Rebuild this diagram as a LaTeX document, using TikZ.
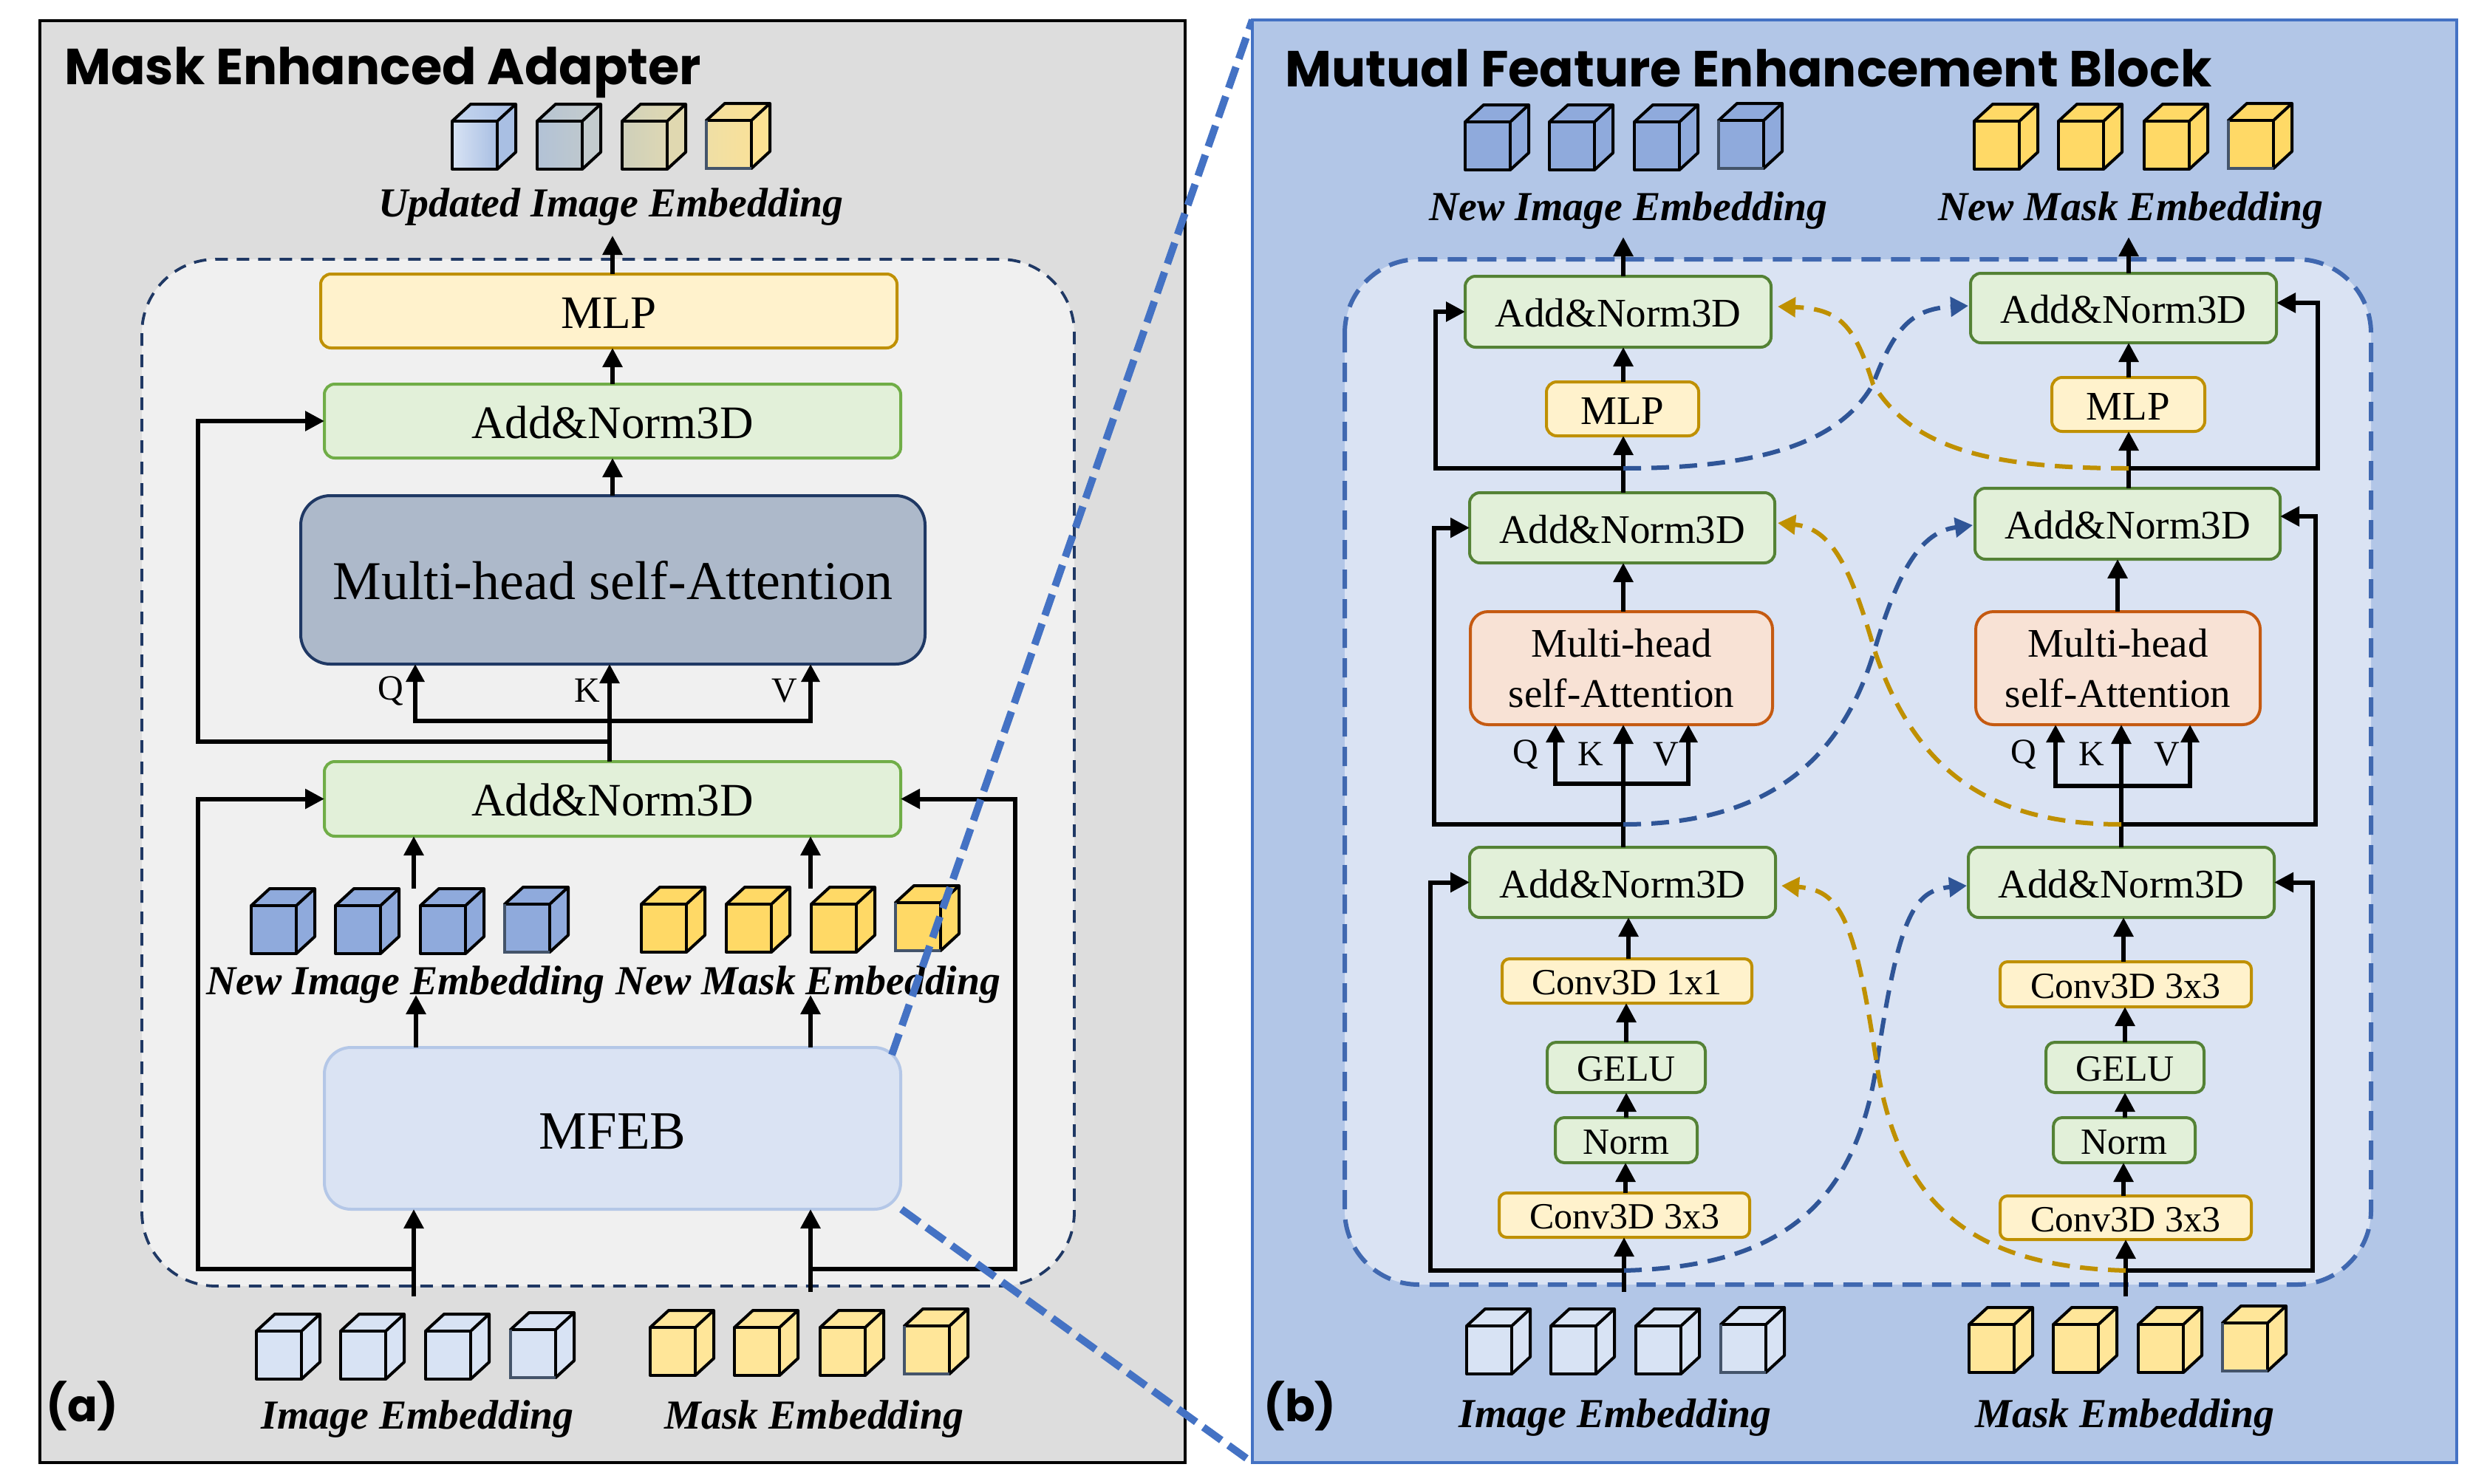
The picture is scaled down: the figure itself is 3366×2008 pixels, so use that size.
\documentclass[tikz,border=0pt]{standalone}
\usepackage{fontspec}
\setmainfont{Liberation Serif}
\newfontfamily\ttlfont{Poppins}
\usetikzlibrary{arrows.meta}
\definecolor{pgrey}{HTML}{DDDDDD}
\definecolor{pblue}{HTML}{B2C6E7}
\definecolor{pblueB}{HTML}{4472C4}
\definecolor{innerA}{HTML}{F0F0F0}
\definecolor{navy}{HTML}{1F3864}
\definecolor{innerB}{HTML}{DAE3F3}
\definecolor{dashB}{HTML}{4068B0}
\definecolor{ylF}{HTML}{FFF2CC}
\definecolor{ylB}{HTML}{BF9000}
\definecolor{grF}{HTML}{E2F0D9}
\definecolor{grA}{HTML}{70AD47}
\definecolor{grB}{HTML}{548235}
\definecolor{orF}{HTML}{F8E2D5}
\definecolor{orB}{HTML}{C55A11}
\definecolor{mhF}{HTML}{ADB9CA}
\definecolor{mfB}{HTML}{B4C7E7}
\definecolor{cbBlue}{HTML}{8FAADC}
\definecolor{cbYel}{HTML}{FFD966}
\definecolor{cbLB}{HTML}{D8E3F4}
\definecolor{cbLY}{HTML}{FFE699}
\definecolor{crvB}{HTML}{2F5597}
\definecolor{edgeN}{HTML}{44546A}
\definecolor{ua}{HTML}{A9BFE3}\definecolor{ub}{HTML}{C5D6F0}
\definecolor{uc}{HTML}{B2C2D6}\definecolor{ud}{HTML}{BEC8CE}\definecolor{ue}{HTML}{C4CCCE}\definecolor{uf}{HTML}{B6C4D2}\definecolor{ug}{HTML}{C6CDCE}
\definecolor{uh}{HTML}{CECFBA}\definecolor{ui}{HTML}{DED8B4}\definecolor{uj}{HTML}{E0D8B0}\definecolor{uk}{HTML}{D2D2BA}\definecolor{ul}{HTML}{E2D9B0}
\definecolor{um}{HTML}{EFDFA5}\definecolor{un}{HTML}{F9E19A}\definecolor{uo}{HTML}{FDE293}\definecolor{up}{HTML}{F3DFA0}
\tikzset{
  x=0.5pt,y=-0.5pt,
  bxbase/.style={draw,inner sep=0pt,outer sep=0pt,align=center,line width=2pt},
  mlpbox/.style={bxbase,rounded corners=7pt,fill=ylF,draw=ylB,text height=23.5pt,font=\fontsize{31.5}{36}\selectfont},
  addbox/.style={bxbase,rounded corners=7pt,fill=grF,draw=grA,text height=23.5pt,font=\fontsize{31.5}{36}\selectfont},
  mhbox/.style={bxbase,rounded corners=20pt,fill=mhF,draw=navy,text height=27.3pt,font=\fontsize{37}{42}\selectfont},
  mfbox/.style={bxbase,rounded corners=18pt,fill=innerB,draw=mfB,text height=28pt,font=\fontsize{36.5}{42}\selectfont},
  addR/.style={bxbase,rounded corners=7pt,fill=grF,draw=grB,text height=20.8pt,font=\fontsize{27.5}{34}\selectfont},
  mlpR/.style={bxbase,rounded corners=7pt,fill=ylF,draw=ylB,text height=20.8pt,font=\fontsize{27.5}{34}\selectfont},
  atR/.style={bxbase,rounded corners=12pt,fill=orF,draw=orB,font=\fontsize{27.5}{34}\selectfont},
  cvR/.style={bxbase,rounded corners=5pt,fill=ylF,draw=ylB,text height=19pt,font=\fontsize{25}{30}\selectfont},
  glR/.style={bxbase,rounded corners=6pt,fill=grF,draw=grB,text height=19pt,font=\fontsize{25}{30}\selectfont},
  emb/.style={inner sep=0pt,font=\fontsize{27.9}{32}\selectfont\bfseries\itshape},
  qkv/.style={inner sep=0pt,font=\fontsize{24}{28}\selectfont},
  ttl/.style={inner sep=0pt,anchor=west,font=\fontsize{34.3}{38}\selectfont\ttlfont\bfseries},
  tagl/.style={inner sep=0pt,anchor=west,font=\fontsize{30}{36}\selectfont\ttlfont\bfseries},
  arr/.style={line width=3pt,line join=miter,-{Triangle[length=13pt,width=13pt]}},
  qkvarr/.style={line width=3pt,line join=miter,{Triangle[length=12pt,width=12pt]}-{Triangle[length=12pt,width=12pt]}},
  crvb/.style={line width=3pt,draw=crvB,dash pattern=on 12pt off 7pt,-{Triangle[length=12pt,width=13pt,color=crvB]}},
  crvg/.style={line width=3pt,draw=ylB,dash pattern=on 12pt off 7pt,-{Triangle[length=12pt,width=13pt,color=ylB]}},
  cbl/.style={line width=2pt,line join=round,draw=black},
  zoomln/.style={line width=5pt,draw=pblueB,dash pattern=on 15pt off 6pt},
}
\newcommand\bx[7]{\pgfmathsetmacro\cxx{(#2+#4)/2}\pgfmathsetmacro\cyy{(#3+#5)/2}\pgfmathsetmacro\wwd{(#4-#2)*0.5}\pgfmathsetmacro\hhd{(#5-#3)*0.5}\node[#6,minimum width=\wwd pt,minimum height=\hhd pt] (#1) at (\cxx,\cyy) {#7};}
% x y front-left front-right side top-left top-right
\newcommand\cubeG[7]{%
  \shade[left color=#3,right color=#4] (#1,#2) rectangle ++(61,65);
  \fill[#5] (#1,#2) ++(61,0) -- ++(25,-23) -- ++(0,65) -- ++(-25,23) -- cycle;
  \shade[left color=#6,right color=#7] (#1,#2) -- ++(25,-23) -- ++(61,0) -- ++(-25,23) -- cycle;
  \draw[cbl] (#1,#2) rectangle ++(61,65);
  \draw[cbl] (#1,#2) -- ++(25,-23) -- ++(61,0) -- ++(0,65) -- ++(-25,23);
  \draw[cbl] (#1,#2) ++(61,0) -- ++(25,-23);
}
\newcommand\cube[3]{\cubeG{#1}{#2}{#3}{#3}{#3}{#3}{#3}}
\newcommand\edgeL[2]{\draw[line width=2pt,edgeN] (#1,#2) -- ++(0,65) -- ++(61,0);}
\begin{document}
\begin{tikzpicture}
\useasboundingbox (0,0) rectangle (3366,2008);
\fill[white] (0,0) rectangle (3366,2008);
% ============ left panel
\draw[line width=2pt,fill=pgrey] (54,28) rectangle (1604,1980);
\draw[fill=innerA,draw=navy,line width=1.9pt,dash pattern=on 8.5pt off 6pt,rounded corners=50pt] (192,351) rectangle (1454,1741);
\node[ttl] (ttlA) at (87,98) {Mask Enhanced Adapter};
\node[tagl] (tagA) at (62,1903) {(a)};
% cubes
\cubeG{612}{164}{cbLB}{ua}{ua}{ub}{ua}
\cubeG{727}{164}{uc}{ud}{ue}{uf}{ug}
\cubeG{842}{164}{uh}{ui}{uj}{uk}{ul}
\cubeG{956}{163}{um}{un}{uo}{up}{uo}\edgeL{956}{163}
\foreach \x in {340,454,569}{\cube{\x}{1226}{cbBlue}}
\cube{683}{1224}{cbBlue}\edgeL{683}{1224}
\foreach \x in {868,983,1098}{\cube{\x}{1224}{cbYel}}
\cube{1212}{1222}{cbYel}\edgeL{1212}{1222}
\foreach \x in {347,461,576}{\cube{\x}{1802}{cbLB}}
\cube{691}{1800}{cbLB}\edgeL{691}{1800}
\foreach \x in {880,994,1110}{\cube{\x}{1797}{cbLY}}
\cube{1224}{1795}{cbLY}\edgeL{1224}{1795}
% nodes
\bx{mlpA}{434}{371}{1214}{471}{mlpbox}{MLP}
\bx{addA}{439}{520}{1219}{620}{addbox}{Add\&Norm3D}
\bx{mhsaA}{407}{671}{1252}{899}{mhbox}{Multi-head self-Attention}
\bx{addB}{439}{1031}{1219}{1132}{addbox}{Add\&Norm3D}
\bx{mfeb}{439}{1418}{1219}{1637}{mfbox}{MFEB}
\node[emb] (lbUp) at (827,280) {Updated Image Embedding};
\node[emb] (lbNI) at (549,1333) {New Image Embedding};
\node[emb] (lbNM) at (1094,1333) {New Mask Embedding};
\node[emb] (lbI) at (565,1921) {Image Embedding};
\node[emb] (lbM) at (1102,1921) {Mask Embedding};
\node[qkv] (qA) at (529,935) {Q};
\node[qkv] (kA) at (795,935) {K};
\node[qkv] (vA) at (1062,935) {V};
% guides
\coordinate (sa) at (829,0);
\coordinate (qx) at (562,976);
\coordinate (kx) at (825,976);
\coordinate (vx) at (1097,976);
\coordinate (inI) at (560,1755);
\coordinate (inM) at (1097,1749);
\coordinate (tOut) at (829,319);
\coordinate (jA) at (825,1004);
\coordinate (lpA) at (268,1004);
\coordinate (jI) at (560,1718);
\coordinate (lpI) at (268,1718);
\coordinate (jM) at (1097,1718);
\coordinate (lpM) at (1374,1718);
\coordinate (tNI) at (560,1203);
\coordinate (tNM) at (1097,1203);
\coordinate (hNI) at (563,1347);
\coordinate (hNM) at (1097,1347);
% connectors
\draw[arr] (mlpA.north -| sa) -- (tOut);
\draw[arr] (addA.north -| sa) -- (mlpA.south -| sa);
\draw[arr] (mhsaA.north -| sa) -- (addA.south -| sa);
\draw[qkvarr] (mhsaA.south -| qx) -- (qx) -- (vx) -- (mhsaA.south -| vx);
\draw[arr] (addB.north -| kx) -- (mhsaA.south -| kx);
\draw[arr] (jA) -- (lpA) |- (addA.west);
\draw[arr] (jI) -- (lpI) |- (addB.west);
\draw[arr] (jM) -- (lpM) |- (addB.east);
\draw[arr] (tNI) -- (addB.south -| tNI);
\draw[arr] (tNM) -- (addB.south -| tNM);
\draw[arr] (mfeb.north -| hNI) -- (hNI);
\draw[arr] (mfeb.north -| hNM) -- (hNM);
\draw[arr] (inI) -- (mfeb.south -| inI);
\draw[arr] (inM) -- (mfeb.south -| inM);
% zoom lines
\coordinate (zT) at (1695,27);
\coordinate (zB) at (1695,1980);
\coordinate (zA) at (1207,1428);
\coordinate (zC) at (1220,1637);
\draw[zoomln] (zA) -- (zT);
\draw[zoomln] (zC) -- (zB);
% ============ right panel
\draw[line width=2pt,fill=pblue,draw=pblueB] (1695,27) rectangle (3325,1980);
\draw[fill=innerB,draw=dashB,line width=3pt,dash pattern=on 13pt off 7pt,rounded corners=50pt] (1820,351) rectangle (3209,1739);
\node[ttl] (ttlB) at (1739,92) {Mutual Feature Enhancement Block};
\node[tagl] (tagB) at (1710,1903) {(b)};
\foreach \x in {1983,2097,2212}{\cube{\x}{165}{cbBlue}}
\cube{2326}{163}{cbBlue}\edgeL{2326}{163}
\foreach \x in {2672,2786,2902}{\cube{\x}{164}{cbYel}}
\cube{3016}{163}{cbYel}\edgeL{3016}{163}
\foreach \x in {1985,2099,2214}{\cube{\x}{1795}{cbLB}}
\cube{2329}{1793}{cbLB}\edgeL{2329}{1793}
\foreach \x in {2665,2779,2894}{\cube{\x}{1793}{cbLY}}
\cube{3008}{1791}{cbLY}\edgeL{3008}{1791}
\node[emb] (lbNIb) at (2204,285) {New Image Embedding};
\node[emb] (lbNMb) at (2884,285) {New Mask Embedding};
\node[emb] (lbIb) at (2186,1919) {Image Embedding};
\node[emb] (lbMb) at (2876,1919) {Mask Embedding};
% left column
\bx{a1L}{1983}{374}{2397}{470}{addR}{Add\&Norm3D}
\bx{mlpL}{2093}{517}{2299}{590}{mlpR}{MLP}
\bx{a2L}{1989}{667}{2402}{762}{addR}{Add\&Norm3D}
\bx{atL}{1990}{828}{2399}{981}{atR}{Multi-head\\self-Attention}
\bx{a3L}{1989}{1147}{2403}{1242}{addR}{Add\&Norm3D}
\bx{c1L}{2033}{1298}{2371}{1358}{cvR}{Conv3D 1x1}
\bx{gL}{2094}{1411}{2308}{1479}{glR}{GELU}
\bx{nL}{2105}{1513}{2297}{1574}{glR}{Norm}
\bx{c2L}{2029}{1615}{2368}{1675}{cvR}{Conv3D 3x3}
% right column
\bx{a1R}{2667}{370}{3081}{464}{addR}{Add\&Norm3D}
\bx{mlpRr}{2777}{511}{2984}{584}{mlpR}{MLP}
\bx{a2R}{2673}{661}{3086}{757}{addR}{Add\&Norm3D}
\bx{atRr}{2674}{828}{3059}{981}{atR}{Multi-head\\self-Attention}
\bx{a3R}{2664}{1147}{3078}{1242}{addR}{Add\&Norm3D}
\bx{c1R}{2707}{1302}{3047}{1363}{cvR}{Conv3D 3x3}
\bx{gR}{2769}{1411}{2983}{1479}{glR}{GELU}
\bx{nR}{2779}{1513}{2971}{1574}{glR}{Norm}
\bx{c2R}{2707}{1619}{3047}{1678}{cvR}{Conv3D 3x3}
\node[qkv] (qL) at (2065,1021) {Q};
\node[qkv] (kL) at (2153,1021) {K};
\node[qkv] (vL) at (2255,1021) {V};
\node[qkv] (qR) at (2739,1021) {Q};
\node[qkv] (kR) at (2831,1021) {K};
\node[qkv] (vR) at (2933,1021) {V};
% guides
\coordinate (sl) at (2197,0);
\coordinate (sr) at (2881,0);
\coordinate (tL) at (2197,321);
\coordinate (tR) at (2881,321);
\coordinate (ql) at (2105,1061);
\coordinate (kl) at (2197,1061);
\coordinate (vl) at (2285,1061);
\coordinate (qr) at (2782,1064);
\coordinate (kr) at (2871,1064);
\coordinate (vr) at (2964,1064);
\coordinate (atx) at (2866,0);
% loops
\coordinate (j1L) at (2197,634); \coordinate (l1L) at (1943,634);
\coordinate (j1R) at (2881,634); \coordinate (l1R) at (3137,634);
\coordinate (j2L) at (2197,1116); \coordinate (l2L) at (1941,1116);
\coordinate (j2R) at (2871,1116); \coordinate (l2R) at (3134,1116);
\coordinate (j3L) at (2198,1720); \coordinate (l3L) at (1936,1720);
\coordinate (j3R) at (2877,1720); \coordinate (l3R) at (3130,1720);
\coordinate (inIb) at (2198,1749);
\coordinate (inMb) at (2877,1755);
\coordinate (e1R) at ([yshift=3.5pt]a1R.east);
\coordinate (e2R) at ([yshift=5pt]a2R.east);
\draw[arr] (a1L.north -| sl) -- (tL);
\draw[arr] (a1R.north -| sr) -- (tR);
\draw[arr] (mlpL.north -| sl) -- (a1L.south -| sl);
\draw[arr] (mlpRr.north -| sr) -- (a1R.south -| sr);
\draw[arr] (a2L.north -| sl) -- (mlpL.south -| sl);
\draw[arr] (a2R.north -| sr) -- (mlpRr.south -| sr);
\draw[arr] (atL.north -| sl) -- (a2L.south -| sl);
\draw[arr] (atRr.north -| atx) -- (a2R.south -| atx);
\draw[qkvarr] (atL.south -| ql) -- (ql) -- (vl) -- (atL.south -| vl);
\draw[qkvarr] (atRr.south -| qr) -- (qr) -- (vr) -- (atRr.south -| vr);
\draw[arr] (a3L.north -| kl) -- (atL.south -| kl);
\draw[arr] (a3R.north -| kr) -- (atRr.south -| kr);
\draw[arr] (j1L) -- (l1L) |- (a1L.west);
\draw[arr] (j1R) -- (l1R) |- (e1R);
\draw[arr] (j2L) -- (l2L) |- (a2L.west);
\draw[arr] (j2R) -- (l2R) |- (e2R);
\draw[arr] (j3L) -- (l3L) |- (a3L.west);
\draw[arr] (j3R) -- (l3R) |- (a3R.east);
\coordinate (xa) at (2204,0); \coordinate (xb) at (2201,0); \coordinate (xc) at (2200,0);
\coordinate (ya) at (2874,0); \coordinate (yb) at (2876,0);
\draw[arr] (c1L.north -| xa) -- (a3L.south -| xa);
\draw[arr] (gL.north -| xb) -- (c1L.south -| xb);
\draw[arr] (nL.north -| xb) -- (gL.south -| xb);
\draw[arr] (c2L.north -| xc) -- (nL.south -| xc);
\draw[arr] (inIb) -- (c2L.south -| inIb);
\draw[arr] (c1R.north -| ya) -- (a3R.south -| ya);
\draw[arr] (gR.north -| yb) -- (c1R.south -| yb);
\draw[arr] (nR.north -| yb) -- (gR.south -| yb);
\draw[arr] (c2R.north -| ya) -- (nR.south -| ya);
\draw[arr] (inMb) -- (c2R.south -| inMb);
% crossing curves
\coordinate (m1) at (2535,520);
\coordinate (m2) at (2537,880);
\coordinate (m3) at (2540,1440);
\coordinate (b1) at (2664,414); \coordinate (g1) at (2406,415);
\coordinate (b2) at (2670,711); \coordinate (g2) at (2406,708);
\coordinate (b3) at (2662,1199); \coordinate (g3) at (2411,1199);
\draw[crvb] (j1L) .. controls (2380,634) and (2490,600) .. (m1) .. controls (2565,440) and (2590,418) .. (b1);
\draw[crvg] (j1R) .. controls (2700,634) and (2590,610) .. (m1) .. controls (2510,440) and (2490,418) .. (g1);
\draw[crvb] (j2L) .. controls (2380,1116) and (2490,1040) .. (m2) .. controls (2570,770) and (2600,720) .. (b2);
\draw[crvg] (j2R) .. controls (2690,1116) and (2590,1040) .. (m2) .. controls (2505,770) and (2480,715) .. (g2);
\draw[crvb] (j3L) .. controls (2400,1715) and (2510,1640) .. (m3) .. controls (2570,1240) and (2590,1205) .. (b3);
\draw[crvg] (j3R) .. controls (2680,1715) and (2570,1640) .. (m3) .. controls (2510,1240) and (2490,1205) .. (g3);
\end{tikzpicture}
\end{document}
